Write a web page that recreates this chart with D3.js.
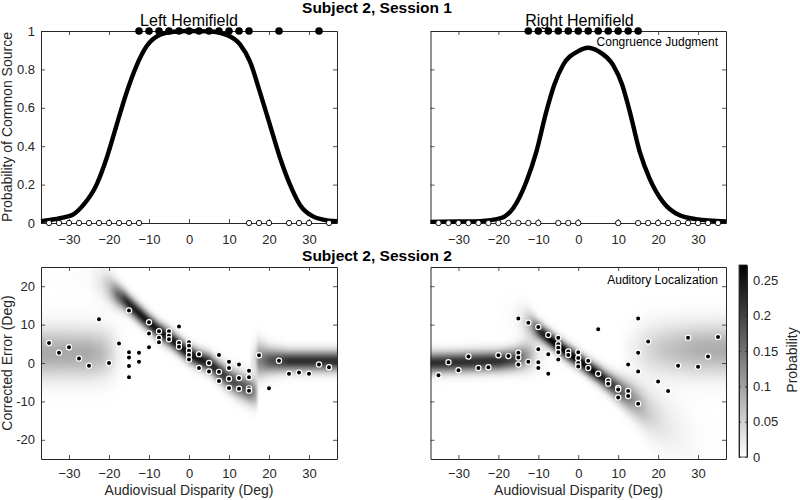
<!DOCTYPE html>
<html><head><meta charset="utf-8">
<script src="https://cdn.jsdelivr.net/npm/d3@7"></script>
<style>
body{margin:0;background:#fff}
svg{display:block;font-family:"Liberation Sans",Arial,Helvetica,sans-serif}
</style></head><body>
<svg id="chart" width="800" height="500"></svg>
<script>
// ---------- data ----------
const xTicks = [-30, -20, -10, 0, 10, 20, 30];
const pTicks = [0, 0.2, 0.4, 0.6, 0.8, 1];
const errTicks = [-20, -10, 0, 10, 20];
const cbTicks = [0, 0.05, 0.1, 0.15, 0.2, 0.25];
const cbMax = 0.272;

// Session 1 congruence judgment fits
const leftCurveX = [-37, -34.75, -31, -28.9, -26.4, -23.1, -20.6, -18.1, -15.6, -13.1, -10.6, -7.25, -3.9, 0, 5, 9.4, 12.75, 15.25, 17.75, 20.25, 22.75, 25.25, 27.75, 31.1, 33.5, 37];
const leftCurveP = [0.01, 0.016, 0.03, 0.045, 0.094, 0.2, 0.337, 0.51, 0.68, 0.82, 0.92, 0.98, 0.996, 1, 0.998, 0.98, 0.93, 0.84, 0.68, 0.51, 0.34, 0.2, 0.094, 0.033, 0.018, 0.009];
const rightCurveX = [-37, -30, -24.6, -19.6, -16.3, -13, -10.5, -8, -6, -3.8, 0, 2.45, 5, 8.7, 11, 12.9, 15.4, 17.9, 21.2, 25.4, 29.5, 37];
const rightCurveP = [0.006, 0.008, 0.01, 0.024, 0.077, 0.215, 0.37, 0.58, 0.72, 0.823, 0.895, 0.913, 0.895, 0.823, 0.72, 0.58, 0.37, 0.23, 0.11, 0.04, 0.02, 0.008];

// Session 1 responses (1 = common source, 0 = separate)
const leftYesX = [-12.5, -10, -7.5, -5, -2.5, 0, 2.5, 5, 7.5, 10, 12.5, 15, 22.5, 32.5];
const leftNoX = [-35, -32.5, -30, -27.5, -25, -22.5, -20, -17.5, -15, -12.5, 15, 17.5, 20, 25, 27.5, 30, 35];
const rightYesX = [-12.5, -10, -7.5, -5, -2.5, 0, 2.5, 5, 7.5, 10, 12.5, 15];
const rightNoX = [-35, -32.5, -30, -27.5, -25, -22.5, -20, -17.5, -15, -12.5, -10, -5, -2.5, 0, 10, 15, 17.5, 20, 22.5, 25, 27.5, 30, 32.5, 35];

// Session 2 auditory localization: [disparity, corrected error]
const leftErrPts = [[-35,5.2],[-32.5,2.7],[-30,4.1],[-27.5,1.2],[-25,-0.7],[-22.5,11.4],[-20,0],[-17.5,5.1],[-15,13.7],[-15,2.8],[-15,1.4],[-15,-0.8],[-15,-3.7],[-12.5,2.7],[-12.5,0.3],[-10,10.6],[-10,7.7],[-10,4.1],[-7.5,8.3],[-7.5,6.6],[-7.5,5.4],[-5,8.3],[-5,7.1],[-5,6.2],[-2.5,9.5],[-2.5,5.2],[-2.5,4.2],[0,5.4],[0,4.5],[0,3.2],[0,2.1],[0,0.9],[2.5,2.3],[2.5,-1.3],[5,0],[5,-2.2],[7.5,2.1],[7.5,-2.3],[7.5,-4.7],[10,0.3],[10,-1.3],[10,-4.1],[10,-6.5],[12.5,-0.4],[12.5,-3.9],[12.5,-6.7],[15,-2.0],[15,-3.7],[15,-6.6],[15,-7.2],[17.5,2.0],[20,-6.6],[22.5,0.6],[25,-2.8],[27.5,-2.5],[30,-2.8],[32.5,-0.4],[35,-1.1]];
const rightErrPts = [[-35,-3.2],[-32.5,0.2],[-30,-1.9],[-27.5,1.7],[-25,-1.3],[-22.5,-1.1],[-20,2.0],[-17.5,1.8],[-15,11.6],[-15,2.7],[-15,1.4],[-15,-0.4],[-12.5,10.5],[-12.5,0.3],[-10,9.4],[-10,3.6],[-10,0.2],[-10,-1.3],[-7.5,7.3],[-7.5,2.3],[-7.5,-2.8],[-5,6.6],[-5,4.9],[-5,4.0],[-5,2.8],[-5,0.9],[-2.5,3.0],[-2.5,2.1],[0,2.8],[0,1.3],[0,0],[0,-0.9],[2.5,0.6],[2.5,-1.3],[5,8.8],[5,-2.8],[7.5,-4.6],[7.5,-5.4],[10,-6.5],[10,-6.9],[10,-9.0],[12.5,-0.4],[12.5,-7.3],[12.5,-8.6],[15,11.6],[15,2.7],[15,-2.2],[15,-10.6],[17.5,5.6],[20,-4.8],[22.5,-7.3],[25,-0.7],[27.5,6.6],[30,-1.0],[32.5,1.7],[35,6.8]];

// Session 2 model density parameters (read from the shading), knots along disparity
const hmLeftX   = [-37, -25, -22, -20, -18, -16, -15, -10, -7.5, -5, -2.5, 0, 2.5, 5, 7.5, 10, 12.5, 15, 16.5, 17.5, 20, 25, 37];
const hmLeftPC  = [0, 0.03, 0.2, 0.45, 0.8, 0.96, 1, 1, 1, 1, 1, 1, 1, 1, 1, 1, 1, 1, 0.7, 0, 0, 0, 0];
const hmLeftDMu = [24, 22.5, 21, 19.5, 17.8, 16.3, 15.3, 10.5, 8.3, 6.6, 4.5, 2.4, 1, 0, -2.2, -4.2, -5.7, -6.9, -7.6, -8, -9, -10, -10];
const hmLeftDSd = [3.2, 3.2, 3, 2.6, 2.1, 1.8, 1.7, 1.6, 1.6, 1.6, 1.6, 1.6, 1.6, 1.7, 1.8, 2, 2.2, 2.3, 2.4, 2.4, 2.4, 2.4, 2.4];
const hmLeftHMu = [2.5, 2.5, 2.5, 2.5, 2.5, 2.5, 2.5, 2.5, 2.5, 2.5, 2.5, 2.5, 2.5, 2.5, 2.5, 2, 1.5, 1, 1, 0.8, 0.6, 0.5, 0.5];
const hmLeftHSd = [4.3, 4.3, 4.3, 4.3, 4.3, 4.3, 4.3, 4.3, 4.3, 4.3, 4.3, 4.3, 4.3, 4.3, 4, 3.6, 3.3, 3, 3, 3, 2.2, 1.8, 1.8];

const hmRightX   = [-37, -20, -16, -14, -12, -10, -7.5, -5, -2.5, 0, 2.5, 5, 7.5, 10, 12.5, 15, 18, 20, 22, 25, 30, 37];
const hmRightPC  = [0, 0, 0.05, 0.2, 0.5, 0.85, 0.97, 1, 1, 1, 1, 1, 1, 1, 0.9, 0.75, 0.5, 0.4, 0.3, 0.2, 0.05, 0];
const hmRightDMu = [14, 13, 12, 11, 10, 8.5, 6.5, 4.5, 2.5, 0.8, -1.2, -3, -5, -6.8, -8.6, -10.5, -13, -14.5, -16, -18, -21, -25];
const hmRightDSd = [3.5, 3.5, 3.5, 3, 2.2, 1.6, 1.5, 1.5, 1.5, 1.5, 1.5, 1.6, 1.8, 2.1, 2.6, 3.1, 4, 4.5, 5, 5.5, 6, 6];
const hmRightHMu = [0, 0.5, 1, 1.5, 2, 2.5, 2.5, 2.5, 2.5, 2.5, 2.5, 2.5, 3, 3, 3.2, 3.5, 3.5, 3.5, 3.5, 3.5, 3.5, 3.5];
const hmRightHSd = [1.8, 1.8, 1.9, 2.2, 2.5, 3, 3.5, 3.5, 3.5, 3.5, 3.5, 3.5, 4, 4, 4.2, 4.5, 4.5, 4.5, 4.5, 4.5, 4.5, 4.5];

// ---------- drawing ----------
const svg = d3.select("#chart");
svg.append("rect").attr("width", 800).attr("height", 500).attr("fill", "#fff");
const AX = "#262626";
const FONT = 13;

const colL = [41, 337], colR = [430.5, 726];
const rowT = [31, 223], rowB = [267, 459];
const xDom = [-37, 37];

function styleAxis(g) {
  g.selectAll("path.domain").attr("stroke", AX).attr("stroke-width", 1);
  g.selectAll(".tick line").attr("stroke", AX).attr("stroke-width", 0.8);
  g.selectAll(".tick text").attr("fill", AX).attr("font-size", FONT).attr("font-family", '"Liberation Sans",Arial,sans-serif');
}

function drawFrame(x, y, xr, yr, yVals, yLabels, yFmt, bottomPad) {
  const gB = svg.append("g").attr("transform", `translate(0,${yr[1]})`)
    .call(d3.axisBottom(x).tickValues(xTicks).tickSizeInner(-4).tickSizeOuter(0).tickPadding(bottomPad));
  const gT = svg.append("g").attr("transform", `translate(0,${yr[0]})`)
    .call(d3.axisTop(x).tickValues(xTicks).tickSizeInner(-4).tickSizeOuter(0).tickFormat(""));
  const gL = svg.append("g").attr("transform", `translate(${xr[0]},0)`)
    .call(d3.axisLeft(y).tickValues(yVals).tickSizeInner(-4).tickSizeOuter(0).tickPadding(6)
      .tickFormat(yLabels ? yFmt : () => ""));
  const gR = svg.append("g").attr("transform", `translate(${xr[1]},0)`)
    .call(d3.axisRight(y).tickValues(yVals).tickSizeInner(-4).tickSizeOuter(0).tickFormat(""));
  [gB, gT, gL, gR].forEach(styleAxis);
}

const pFmt = d => (d === 0 || d === 1) ? String(d) : d3.format(".1f")(d);

function curvePanel(xr, curveX, curveP, yesX, noX, showY) {
  const x = d3.scaleLinear().domain(xDom).range(xr);
  const y = d3.scaleLinear().domain([0, 1]).range([rowT[1], rowT[0]]);
  drawFrame(x, y, xr, rowT, pTicks, showY, pFmt, 12);
  const line = d3.line().x(d => x(d[0])).y(d => y(d[1])).curve(d3.curveMonotoneX);
  svg.append("path").datum(d3.zip(curveX, curveP)).attr("d", line)
    .attr("fill", "none").attr("stroke", "#000").attr("stroke-width", 4.4);
  svg.append("g").selectAll("circle").data(noX).join("circle")
    .attr("cx", d => x(d)).attr("cy", y(0)).attr("r", 2.7)
    .attr("fill", "#fff").attr("stroke", "#000").attr("stroke-width", 0.9);
  svg.append("g").selectAll("circle").data(yesX).join("circle")
    .attr("cx", d => x(d)).attr("cy", y(1)).attr("r", 3.8)
    .attr("fill", "#000");
}

function gauss(v, m, s) {
  return Math.exp(-0.5 * ((v - m) / s) ** 2) / (s * Math.sqrt(2 * Math.PI));
}

function heatPanel(xr, kx, pc, dmu, dsd, hmu, hsd, pts, showY) {
  const x = d3.scaleLinear().domain(xDom).range(xr);
  const y = d3.scaleLinear().domain([-25, 25]).range([rowB[1], rowB[0]]);
  const sPC = d3.scaleLinear().domain(kx).range(pc).clamp(true);
  const sDM = d3.scaleLinear().domain(kx).range(dmu).clamp(true);
  const sDS = d3.scaleLinear().domain(kx).range(dsd).clamp(true);
  const sHM = d3.scaleLinear().domain(kx).range(hmu).clamp(true);
  const sHS = d3.scaleLinear().domain(kx).range(hsd).clamp(true);
  const color = d3.scaleLinear().domain([0, cbMax]).range(["#ffffff", "#000000"]).clamp(true);

  const W = Math.round(xr[1] - xr[0]), H = Math.round(rowB[1] - rowB[0]);
  const cv = document.createElement("canvas");
  cv.width = W; cv.height = H;
  const ctx = cv.getContext("2d");
  const img = ctx.createImageData(W, H);
  for (let i = 0; i < W; i++) {
    const xv = x.invert(xr[0] + (i + 0.5) * (xr[1] - xr[0]) / W);
    const p = sPC(xv), m1 = sDM(xv), s1 = sDS(xv), m2 = sHM(xv), s2 = sHS(xv);
    for (let j = 0; j < H; j++) {
      const yv = y.invert(rowB[0] + j + 0.5);
      const dens = p * gauss(yv, m1, s1) + (1 - p) * gauss(yv, m2, s2);
      const c = d3.rgb(color(dens));
      const k = (j * W + i) * 4;
      img.data[k] = c.r; img.data[k + 1] = c.g; img.data[k + 2] = c.b; img.data[k + 3] = 255;
    }
  }
  ctx.putImageData(img, 0, 0);
  svg.append("image").attr("x", xr[0]).attr("y", rowB[0]).attr("width", xr[1] - xr[0]).attr("height", H)
    .attr("preserveAspectRatio", "none").attr("href", cv.toDataURL());

  drawFrame(x, y, xr, rowB, errTicks, showY, d => String(d), 10);

  svg.append("g").selectAll("circle").data(pts).join("circle")
    .attr("cx", d => x(d[0])).attr("cy", d => y(d[1])).attr("r", 2.6)
    .attr("fill", "#000").attr("stroke", "#fff").attr("stroke-width", 1.2);
}

curvePanel(colL, leftCurveX, leftCurveP, leftYesX, leftNoX, true);
curvePanel(colR, rightCurveX, rightCurveP, rightYesX, rightNoX, false);
heatPanel(colL, hmLeftX, hmLeftPC, hmLeftDMu, hmLeftDSd, hmLeftHMu, hmLeftHSd, leftErrPts, true);
heatPanel(colR, hmRightX, hmRightPC, hmRightDMu, hmRightDSd, hmRightHMu, hmRightHSd, rightErrPts, false);

// colorbar
const cb = { x0: 739, x1: 747, y0: 265, y1: 457 };
const grad = svg.append("defs").append("linearGradient").attr("id", "cbg")
  .attr("x1", 0).attr("y1", 1).attr("x2", 0).attr("y2", 0);
grad.append("stop").attr("offset", 0).attr("stop-color", "#fff");
grad.append("stop").attr("offset", 1).attr("stop-color", "#000");
svg.append("rect").attr("x", cb.x0).attr("y", cb.y0).attr("width", cb.x1 - cb.x0).attr("height", cb.y1 - cb.y0)
  .attr("fill", "url(#cbg)").attr("stroke", AX).attr("stroke-width", 0.8);
const cbY = d3.scaleLinear().domain([0, cbMax]).range([cb.y1, cb.y0]);
const gcR = svg.append("g").attr("transform", `translate(${cb.x1},0)`)
  .call(d3.axisRight(cbY).tickValues(cbTicks).tickSizeInner(-2).tickSizeOuter(0).tickPadding(6).tickFormat(d => String(d)));
const gcL = svg.append("g").attr("transform", `translate(${cb.x0},0)`)
  .call(d3.axisLeft(cbY).tickValues(cbTicks).tickSizeInner(-2).tickSizeOuter(0).tickFormat(""));
[gcR, gcL].forEach(styleAxis);
svg.append("text").attr("transform", "translate(796.5,360) rotate(-90)").attr("text-anchor", "middle")
  .attr("font-size", 14).attr("fill", AX).text("Probability");

// texts
const T = (x, y, s, size, opts = {}) => svg.append("text").attr("x", x).attr("y", y)
  .attr("text-anchor", opts.anchor || "middle").attr("font-size", size)
  .attr("font-weight", opts.bold ? "bold" : null).attr("fill", opts.fill || "#000").text(s);

T(377, 12.5, "Subject 2, Session 1", 15.5, { bold: true });
T(377, 260.5, "Subject 2, Session 2", 15.5, { bold: true });
T(189, 25.5, "Left Hemifield", 16);
T(579.5, 25.5, "Right Hemifield", 16);
T(718, 46, "Congruence Judgment", 12, { anchor: "end" });
T(718, 284, "Auditory Localization", 12, { anchor: "end" });
T(189, 495, "Audiovisual Disparity (Deg)", 14, { fill: AX });
T(578.5, 495, "Audiovisual Disparity (Deg)", 14, { fill: AX });
svg.append("text").attr("transform", "translate(12,127) rotate(-90)").attr("text-anchor", "middle")
  .attr("font-size", 14).attr("fill", AX).text("Probability of Common Source");
svg.append("text").attr("transform", "translate(12,363) rotate(-90)").attr("text-anchor", "middle")
  .attr("font-size", 14).attr("fill", AX).text("Corrected Error (Deg)");
</script>
</body></html>
